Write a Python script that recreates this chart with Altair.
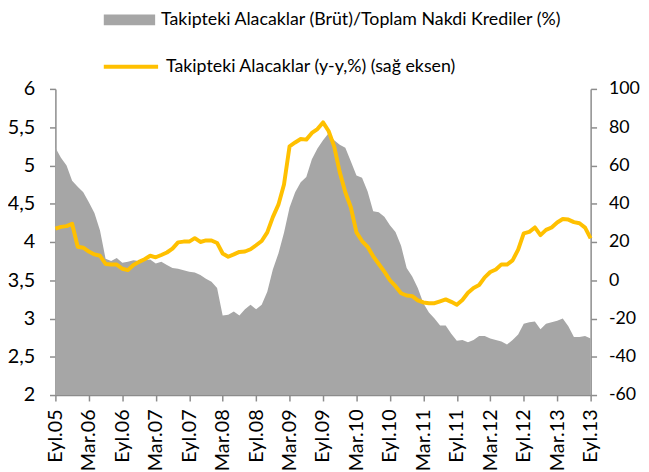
import altair as alt
import pandas as pd

# Monthly data, Eyl.05 (Sep 2005) ... Eyl.13 (Sep 2013)
npl_ratio = [
    5.23, 5.10, 5.00, 4.80, 4.72, 4.65, 4.52, 4.38, 4.15, 3.78,
    3.75, 3.79, 3.73, 3.74, 3.76, 3.75, 3.76, 3.77, 3.72, 3.74,
    3.70, 3.66, 3.65, 3.63, 3.61, 3.60, 3.57, 3.52, 3.48, 3.40,
    3.04, 3.05, 3.09, 3.04, 3.12, 3.18, 3.12, 3.18, 3.35, 3.64,
    3.85, 4.12, 4.45, 4.65, 4.78, 4.85, 5.08, 5.22, 5.33, 5.42,
    5.33, 5.27, 5.23, 5.05, 4.87, 4.84, 4.66, 4.40, 4.39, 4.33,
    4.22, 4.13, 3.95, 3.66, 3.55, 3.40, 3.20, 3.08, 3.00, 2.91,
    2.91, 2.80, 2.71, 2.72, 2.69, 2.72, 2.77, 2.77, 2.74, 2.72,
    2.70, 2.66, 2.72, 2.79, 2.93, 2.95, 2.96, 2.86, 2.93, 2.95,
    2.97, 3.00, 2.90, 2.76, 2.76, 2.77, 2.74,
]
npl_growth = [
    27.0, 27.9, 28.3, 29.5, 17.5, 17.0, 15.0, 13.5, 12.8, 8.5,
    8.2, 8.2, 6.0, 5.3, 8.0, 9.6, 11.0, 12.8, 12.0, 13.2,
    14.5, 16.5, 19.8, 20.2, 20.2, 22.0, 20.0, 20.8, 20.8, 19.5,
    14.0, 12.3, 13.5, 14.8, 15.0, 16.2, 18.3, 20.5, 25.0, 33.0,
    39.5, 50.0, 70.0, 72.0, 73.8, 73.5, 77.0, 79.0, 82.5, 78.0,
    70.0, 56.5, 46.0, 38.0, 25.0, 20.5, 17.5, 12.5, 8.5, 4.5,
    0.0, -3.1, -6.8, -8.0, -8.3, -10.5, -11.6, -12.0, -12.0, -11.0,
    -10.0, -11.3, -12.8, -10.3, -6.5, -4.0, -2.5, 1.5, 4.3, 5.6,
    8.3, 8.2, 10.4, 16.0, 24.5, 25.3, 27.6, 23.6, 26.3, 27.6,
    30.2, 32.0, 31.7, 30.4, 29.8, 27.5, 21.9,
]
tick_labels = [
    "Eyl.05", "Mar.06", "Eyl.06", "Mar.07", "Eyl.07", "Mar.08", "Eyl.08",
    "Mar.09", "Eyl.09", "Mar.10", "Eyl.10", "Mar.11", "Eyl.11", "Mar.12",
    "Eyl.12", "Mar.13", "Eyl.13",
]
left_ticks = [2, 2.5, 3, 3.5, 4, 4.5, 5, 5.5, 6]
right_ticks = [-60, -40, -20, 0, 20, 40, 60, 80, 100]
label_area = "Takipteki Alacaklar (Brüt)/Toplam Nakdi Krediler (%)"
label_line = "Takipteki Alacaklar (y-y,%) (sağ eksen)"

FONT = "Lato"
AXIS_GRAY = "#8c8c8c"
AXIS_FS = 20
RIGHT_FS = 18
LEGEND_FS = 18

df = pd.DataFrame({
    "m": list(range(len(npl_ratio))),
    "ratio": npl_ratio,
    "growth": npl_growth,
    "s1": label_area,
    "s2": label_line,
})

label_arr = "[" + ",".join("'" + t + "'" for t in tick_labels) + "]"

x_enc = alt.X(
    "m:Q",
    scale=alt.Scale(domain=[0, len(npl_ratio) - 1], nice=False, zero=False),
    axis=alt.Axis(
        values=list(range(0, len(npl_ratio), 6)),
        labelExpr=label_arr + "[round(datum.value/6)]",
        labelAngle=270,
        title=None,
        grid=False,
        domainColor=AXIS_GRAY,
        domainWidth=1.5,
        tickColor=AXIS_GRAY,
        tickWidth=1.5,
        tickSize=6,
        labelPadding=8,
        labelFont=FONT,
        labelFontSize=AXIS_FS,
        labelColor="#000000",
        labelOverlap=False,
    ),
)

area = alt.Chart(df).mark_area(opacity=1).encode(
    x=x_enc,
    y=alt.Y(
        "ratio:Q",
        scale=alt.Scale(domain=[2, 6], nice=False, zero=False),
        axis=alt.Axis(
            values=left_ticks,
            labelExpr="replace(format(datum.value, '~g'), '.', ',')",
            title=None,
            grid=False,
            orient="left",
            domainColor=AXIS_GRAY,
            domainWidth=1.5,
            tickColor=AXIS_GRAY,
            tickWidth=1.5,
            tickSize=6,
            labelPadding=15,
            labelFont=FONT,
            labelFontSize=AXIS_FS,
            labelColor="#000000",
        ),
    ),
    y2=alt.datum(2),
    fill=alt.Fill(
        "s1:N",
        scale=alt.Scale(domain=[label_area], range=["#a6a6a6"]),
        legend=alt.Legend(
            orient="none",
            legendX=49,
            legendY=-96,
            title=None,
            padding=0,
            symbolType="M-1,-0.21H1V0.21H-1Z",
            symbolSize=2704,
            symbolStrokeWidth=0,
            labelFont=FONT,
            labelFontSize=LEGEND_FS,
            labelColor="#000000",
            labelOffset=6,
            labelLimit=0,
        ),
    ),
)

line = alt.Chart(df).mark_line(strokeWidth=4, strokeJoin="round").encode(
    x=x_enc,
    y=alt.Y(
        "growth:Q",
        scale=alt.Scale(domain=[-60, 100], nice=False, zero=False),
        axis=alt.Axis(
            values=right_ticks,
            labelExpr="datum.value < 0 ? '-' + abs(datum.value) : '' + datum.value",
            title=None,
            grid=False,
            orient="right",
            domainColor=AXIS_GRAY,
            domainWidth=1.5,
            tickColor=AXIS_GRAY,
            tickWidth=1.5,
            tickSize=6,
            labelPadding=12,
            labelFont=FONT,
            labelFontSize=RIGHT_FS,
            labelColor="#000000",
        ),
    ),
    stroke=alt.Stroke(
        "s2:N",
        scale=alt.Scale(domain=[label_line], range=["#ffc000"]),
        legend=alt.Legend(
            orient="none",
            legendX=47,
            legendY=-52,
            title=None,
            padding=0,
            symbolType="stroke",
            symbolSize=3025,
            symbolStrokeWidth=4,
            labelFont=FONT,
            labelFontSize=LEGEND_FS,
            labelColor="#000000",
            labelOffset=6,
            labelLimit=0,
        ),
    ),
)

chart = (
    alt.layer(area, line)
    .resolve_scale(y="independent", fill="independent", stroke="independent")
    .properties(
        width=542,
        height=310,
        autosize=alt.AutoSizeParams(type="none"),
        padding={"left": 48, "top": 79, "right": 51, "bottom": 75},
        background="white",
    )
    .configure_view(stroke=None)
)

chart.save("out.html", embed_options={"renderer": "svg", "actions": False})
